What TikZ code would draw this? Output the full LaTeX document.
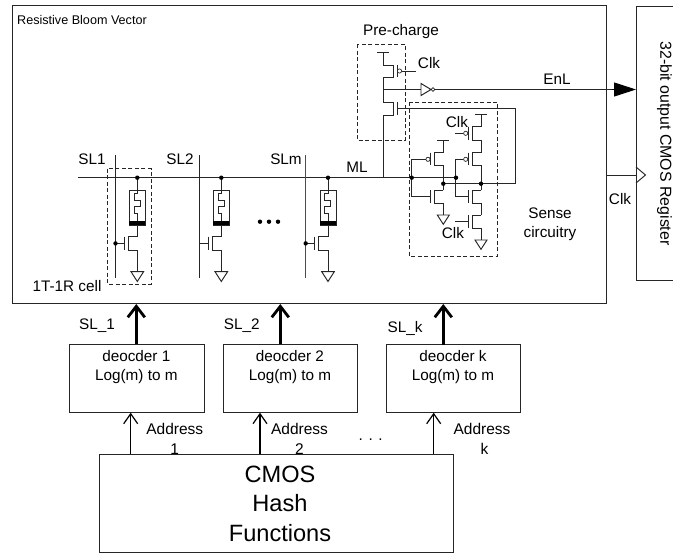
\documentclass[tikz,border=0pt]{standalone}
\usepackage{fontspec}
\setmainfont{Liberation Sans}
\usetikzlibrary{arrows.meta}
\tikzset{
  wire/.style={line width=0.95pt,draw=black!85},
  box/.style={draw=black!85,line width=1pt,inner sep=0pt},
  dashbox/.style={draw=black!85,line width=0.9pt,dash pattern=on 4pt off 2.5pt},
  lbl/.style={inner sep=0pt,font=\fontsize{15.3}{19}\selectfont,align=center},
  thickarrow/.style={line width=2.8pt,draw=black,-{Straight Barb[length=11pt,width=17pt,line width=2.8pt]}},
  thinarrow/.style={line width=1.2pt,draw=black,-{Straight Barb[length=10pt,width=14pt,line width=1.2pt]}},
  bubble/.style={circle,draw=black!85,fill=white,line width=0.7pt,inner sep=0pt,minimum size=4.2pt},
}
% stem x, top y, bottom y, channel x, gate-bar x
\newcommand\myfet[5]{\draw[wire] (#1,#2) -- (#4,#2) -- (#4,#3) -- (#1,#3); \draw[wire] (#5,#2) -- (#5,#3);}
\newcommand\mygnd[3]{\draw[wire] (#1-#3,#2) -- (#1+#3,#2) -- (#1,#2+#3*1.55) -- cycle;}
\newcommand\mycell[2]{% stem x, gate line start x
  \draw[wire] (#1,177.7) -- (#1,193) -- (#1-3.3,193) -- (#1-3.3,200) -- (#1+2.7,200) -- (#1+2.7,206.7) -- (#1-3.3,206.7) -- (#1-3.3,213.3) -- (#1,213.3) -- (#1,236.7);
  \draw[wire,line width=1pt] (#1-8,190) rectangle (#1+8,225);
  \fill[black] (#1-8,221) rectangle (#1+8,225);
  \myfet{#1}{236.7}{250}{#1-9.3}{#1-13.3}
  \draw[wire] (#1,250) -- (#1,271.7);
  \mygnd{#1}{271.7}{6.3}
  \draw[wire] (#2,243.4) -- (#1-13.3,243.4);
  \fill (#1,177.7) circle (2.2);
}
\begin{document}
\begin{tikzpicture}[x=1pt,y=-1pt]
\useasboundingbox (0,0) rectangle (673,554);
% main blocks
\node[box,minimum width=593.7pt,minimum height=298pt,anchor=north west] (rbv) at (12,5) {};
\node[lbl,font=\fontsize{12.6}{15}\selectfont,anchor=west] (title) at (17,20) {Resistive Bloom Vector};
\coordinate (regtr) at (673,6);
\coordinate (regtl) at (636,6);
\coordinate (regbl) at (636,280);
\coordinate (regbr) at (673,280);
\draw[box] (regtr) -- (regtl) -- (regbl) -- (regbr);
\node[lbl,rotate=-90,font=\fontsize{15.9}{19}\selectfont] (regtxt) at (664.5,143.5) {32-bit output CMOS Register};

% match line and select lines
\coordinate (mlstart) at (78,177.7);
\coordinate (mlend) at (456,177.7);
\draw[wire] (mlstart) -- (mlend);
\draw[wire] (115.5,155) -- (115.5,278);
\draw[wire] (199.5,155) -- (199.5,278);
\draw[wire,line width=1.1pt,draw=black!70] (305.7,155) -- (305.7,278);
\node[lbl] (sl1) at (92,159) {SL1};
\node[lbl] (sl2) at (180,159) {SL2};
\node[lbl] (slm) at (286,159) {SLm};
\node[lbl] (ml) at (357,167) {ML};
\node[lbl] (cell) at (67,285.6) {1T-1R cell};
% cells
\mycell{137.3}{115.5}
\mycell{221.3}{199.5}
\mycell{328}{305.7}
\fill (115.5,243.4) circle (2.2);
\fill (305.7,243.4) circle (2.2);
\draw[dashbox] (107.7,168.7) rectangle (151,284);
\fill (260,221.7) circle (2.2) (269,221.7) circle (2.2) (278,221.7) circle (2.2);

% pre-charge
\draw[dashbox] (357,44) rectangle (405,140);
\node[lbl] (pre) at (401,32) {Pre-charge};
\draw[wire] (377,52) -- (389,52);
\draw[wire] (383,52) -- (383,65);
\myfet{383}{65}{77.3}{393.3}{397}
\draw[wire] (383,77.3) -- (383,102);
\myfet{383}{102}{115}{393.3}{397}
\draw[wire] (383,115) -- (383,177.7);
\node[bubble] (b0) at (399.5,71) {};
\draw[wire] (b0) -- (416,71);
\node[lbl] (clk0) at (429,63) {Clk};
% EnL
\coordinate (enlstart) at (383,89.5);
\coordinate (enlend) at (636,89.5);
\draw[wire] (enlstart) -- (421,89.5);
\draw[wire,fill=white] (421,83.5) -- (431,89.5) -- (421,95.5) -- cycle;
\node[bubble,minimum size=3.6pt] (b00) at (433,89.5) {};
\draw[wire] (b00) -- (612,89.5);
\draw[line width=1pt,-{Triangle[length=22pt,width=14pt]}] (612,89.5) -- (enlend);
\node[lbl] (enl) at (557,79) {EnL};
% Clk input
\coordinate (ckin) at (607,175);
\draw[wire] (ckin) -- (regbl |- ckin);
\draw[wire] (636,167) -- (645.5,175) -- (636,183);
\node[lbl] (clkr) at (620,199) {Clk};

% sense
\draw[dashbox] (409,102) rectangle (497.3,256);
\draw[wire] (397,108.3) -- (515,108.3) -- (515,183.7) -- (443.3,183.7);
% left inverter
\draw[wire] (437.3,140.3) -- (449.3,140.3);
\draw[wire] (443.3,140.3) -- (443.3,152.7);
\myfet{443.3}{152.7}{165}{434.3}{430.7}
\draw[wire] (443.3,165) -- (443.3,190);
\myfet{443.3}{190}{203.3}{434.3}{430.7}
\draw[wire] (443.3,203.3) -- (443.3,215);
\mygnd{443.3}{215}{6}
\node[bubble] (b1) at (428,159.3) {};
\draw[wire] (b1) -- (411.7,159.3) -- (411.7,196.7) -- (430.7,196.7);
% right stack
\draw[wire] (475,114.3) -- (487,114.3);
\draw[wire] (481,114.3) -- (481,126.7);
\myfet{481}{126.7}{140}{472.3}{468.3}
\draw[wire] (481,140) -- (481,152.7);
\myfet{481}{152.7}{165}{472.3}{468.3}
\draw[wire] (481,165) -- (481,190);
\myfet{481}{190}{203.3}{472.3}{468.3}
\draw[wire] (481,203.3) -- (481,215);
\myfet{481}{215}{228}{472.3}{468.3}
\draw[wire] (481,228) -- (481,240);
\mygnd{481}{240}{6}
\node[bubble] (b2) at (465.7,133.3) {};
\draw[wire] (b2) -- (455,133.3);
\node[bubble] (b3) at (465.7,159.3) {};
\draw[wire] (b3) -- (455,159.3) -- (455,196.7) -- (468.3,196.7);
\draw[wire] (455,221) -- (468.3,221);
\fill (411.7,177.7) circle (2.2) (456,177.7) circle (2.2) (443.3,183.7) circle (2.2) (481,183.7) circle (2.2);
\node[lbl] (clk1) at (457,122) {Clk};
\node[lbl] (clk2) at (453,233) {Clk};
\node[lbl] (sense) at (550,224) {Sense\\circuitry};

% decoders
\node[box,minimum width=134.7pt,minimum height=67.4pt,anchor=north west] (dec1) at (69,344.3) {};
\node[box,minimum width=134.7pt,minimum height=67.4pt,anchor=north west] (dec2) at (222.7,344.3) {};
\node[box,minimum width=134.3pt,minimum height=67.4pt,anchor=north west] (deck) at (385.7,344.3) {};
\node[lbl,anchor=north] (t1) at (136.3,350) {deocder 1\\Log(m) to m};
\node[lbl,anchor=north] (t2) at (290,350) {deocder 2\\Log(m) to m};
\node[lbl,anchor=north] (tk) at (453,350) {deocder k\\Log(m) to m};
\node[box,minimum width=354pt,minimum height=98.3pt,anchor=north west] (hash) at (99.3,454) {};
\node[lbl,font=\fontsize{23.6}{29.5}\selectfont] (hasht) at (280,503.5) {CMOS\\Hash\\Functions};

\coordinate (u1) at (136.3,330);
\coordinate (u2) at (280.3,330);
\coordinate (uk) at (443.3,330);
\draw[thickarrow] (u1 |- dec1.north) -- (u1 |- rbv.south);
\draw[thickarrow] (u2 |- dec2.north) -- (u2 |- rbv.south);
\draw[thickarrow] ([yshift=-1pt]uk |- deck.north) -- (uk |- rbv.south);
\node[lbl] (s1) at (97,326) {SL\_1};
\node[lbl] (s2) at (241.7,326) {SL\_2};
\node[lbl] (sk) at (405,328) {SL\_k};

\coordinate (a1) at (130.7,430);
\coordinate (a2) at (260,430);
\coordinate (ak) at (433.7,430);
\draw[thinarrow] (a1 |- hash.north) -- (a1 |- dec1.south);
\draw[thinarrow] (a2 |- hash.north) -- (a2 |- dec2.south);
\draw[thinarrow] (ak |- hash.north) -- (ak |- deck.south);
\node[lbl,font=\fontsize{15.5}{20}\selectfont] (ad1) at (174.8,438.5) {Address\\1};
\node[lbl,font=\fontsize{15.5}{20}\selectfont] (ad2) at (299.5,438.5) {Address\\2};
\node[lbl,font=\fontsize{15.5}{20}\selectfont] (adk) at (482,438.5) {Address\\\hspace*{5pt}k};
\node[lbl] (dots) at (370.7,440) {. . .};
\end{tikzpicture}
\end{document}
